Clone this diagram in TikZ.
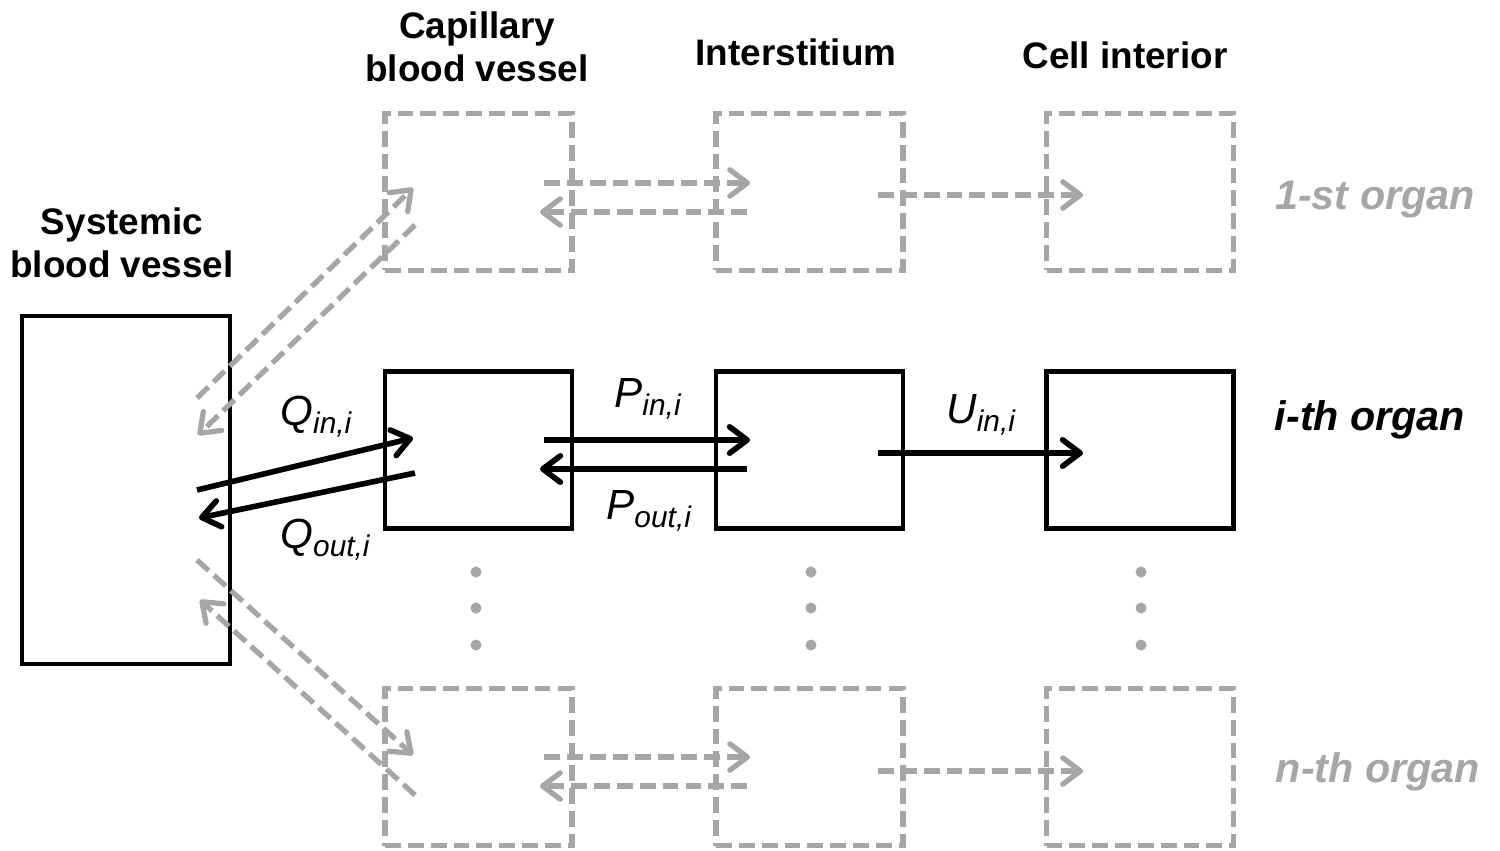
\documentclass[tikz,border=0pt]{standalone}
\usepackage{fontspec}
\setmainfont{Liberation Sans}
\usetikzlibrary{arrows.meta,calc}
\definecolor{lg}{HTML}{A6A6A6}
\newcommand\qsub[2]{#1\raisebox{-5pt}{\fontsize{17}{17}\selectfont #2}}
\begin{document}
\begin{tikzpicture}[x=0.02cm,y=-0.02cm,
 box/.style={draw,line width=2.7pt,minimum width=3.74cm,minimum height=3.14cm,inner sep=0pt},
 gbox/.style={box,draw=lg,line width=3pt,dash pattern=on 9pt off 4pt},
 arr/.style={line width=3.2pt,-{Straight Barb[length=10pt,width=15pt,round]}},
 garr/.style={arr,line width=3pt,draw=lg,dash pattern=on 9pt off 4pt},
 head/.style={font=\fontsize{21}{24.5}\selectfont\bfseries,align=center},
 org/.style={font=\fontsize{23.5}{27}\selectfont\bfseries\itshape},
 lab/.style={font=\fontsize{24}{28}\selectfont\itshape,anchor=base west,inner sep=0pt},
 gdot/.style={circle,fill=lg,minimum size=0.22cm,inner sep=0pt}]
\useasboundingbox (0,0) rectangle (1500,850);
% boxes
\node[box,minimum width=4.16cm,minimum height=6.96cm] (sys) at (126,490) {};
\node[gbox] (cap1) at (478.5,192) {};
\node[gbox] (int1) at (809.5,192) {};
\node[gbox] (cell1) at (1140,192) {};
\node[box] (capi) at (478.5,450) {};
\node[box] (inti) at (809.5,450) {};
\node[box] (celli) at (1140,450) {};
\node[gbox] (capn) at (478.5,767) {};
\node[gbox] (intn) at (809.5,767) {};
\node[gbox] (celln) at (1140,767) {};
% headers
\node[head] (hcap) at (477,47) {Capillary\\blood vessel};
\node[head] (hint) at (796,52) {Interstitium};
\node[head] (hcell) at (1125,55) {Cell interior};
\node[head] (hsys) at (122,243) {Systemic\\blood vessel};
\node[org,text=lg] (o1) at (1375,200) {1-st organ};
\node[org] (oi) at (1370,420) {i-th organ};
\node[org,text=lg] (on) at (1378,772) {n-th organ};
% middle row arrows
\coordinate (qa) at (197,490); \coordinate (qb) at (413,438);
\coordinate (qc) at (415,473); \coordinate (qd) at (199,518);
\draw[arr] (qa) -- (qb);
\draw[arr] (qc) -- (qd);
\coordinate (pa) at (544,440); \coordinate (pb) at (750,440);
\coordinate (pc) at (747,469); \coordinate (pd) at (540,469);
\draw[arr] (pa) -- (pb);
\draw[arr] (pc) -- (pd);
\coordinate (ua) at (878,453); \coordinate (ub) at (1083,453);
\draw[arr] (ua) -- (ub);
% top row arrows
\coordinate (ta1) at (197,398); \coordinate (ta2) at (413,188);
\coordinate (tb1) at (415,225); \coordinate (tb2) at (198,435);
\draw[garr] (ta1) -- (ta2);
\draw[garr] (tb1) -- (tb2);
\coordinate (tp1) at (544,183); \coordinate (tp2) at (750,183);
\coordinate (tp3) at (747,212); \coordinate (tp4) at (540,212);
\draw[garr] (tp1) -- (tp2);
\draw[garr] (tp3) -- (tp4);
\coordinate (tu1) at (878,195); \coordinate (tu2) at (1083,195);
\draw[garr] (tu1) -- (tu2);
% bottom row arrows
\coordinate (bc1) at (197,560); \coordinate (bc2) at (413,755);
\coordinate (bd1) at (415,795); \coordinate (bd2) at (200,600);
\draw[garr] (bc1) -- (bc2);
\draw[garr] (bd1) -- (bd2);
\coordinate (bp1) at (544,757); \coordinate (bp2) at (750,757);
\coordinate (bp3) at (747,786); \coordinate (bp4) at (540,786);
\draw[garr] (bp1) -- (bp2);
\draw[garr] (bp3) -- (bp4);
\coordinate (bu1) at (878,771); \coordinate (bu2) at (1083,771);
\draw[garr] (bu1) -- (bu2);
% labels
\node[lab] (lqin) at (280,425) {\qsub{Q}{in,i}};
\node[lab] (lqout) at (280,548) {\qsub{Q}{out,i}};
\node[lab] (lpin) at (614,407) {\qsub{P}{in,i}};
\node[lab] (lpout) at (606,519) {\qsub{P}{out,i}};
\node[lab] (luin) at (946,423) {\qsub{U}{in,i}};
% dots
\foreach \x/\n in {476/a,811/b,1141/c}{
  \foreach \y/\m in {572/1,608/2,645/3}{
    \node[gdot] (d\n\m) at (\x,\y) {};
  }
}
\end{tikzpicture}
\end{document}
